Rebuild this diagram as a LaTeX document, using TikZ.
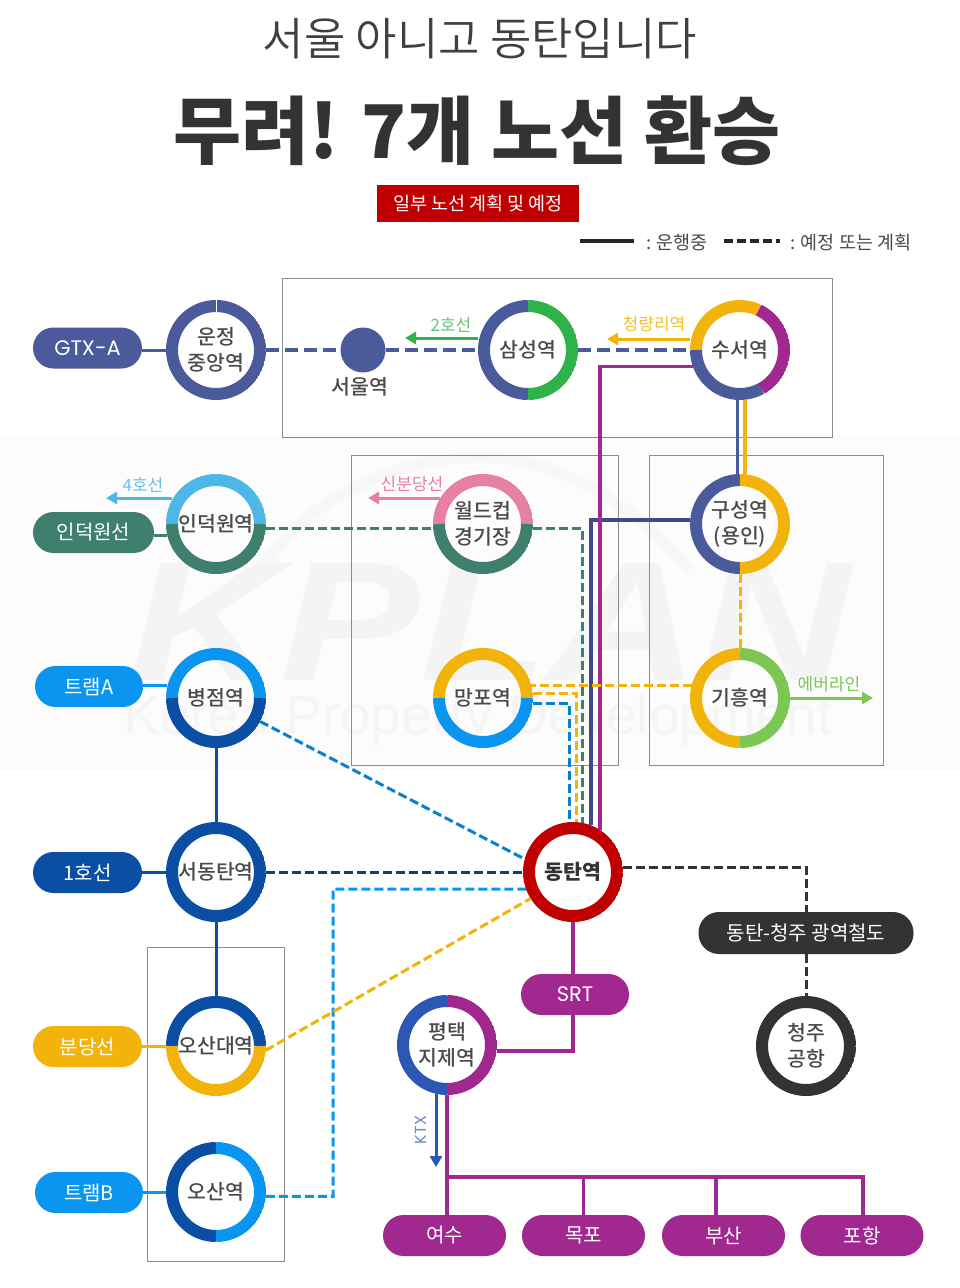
\documentclass[tikz,border=0pt]{standalone}
\usepackage{fontspec}
\setmainfont{Noto Sans CJK KR}
\newfontfamily\krb{Noto Sans CJK KR Black}
\newfontfamily\krl{Noto Sans CJK KR DemiLight}
\newfontfamily\krm{Noto Sans CJK KR Medium}
\newfontfamily\lat{Poppins}
\newfontfamily\wm{Liberation Sans}
\usetikzlibrary{arrows.meta}
\definecolor{cgtx}{HTML}{4A5A9B}
\definecolor{cgreen}{HTML}{3F7F6E}
\definecolor{cbright}{HTML}{0A96F0}
\definecolor{cdark}{HTML}{0B4FA5}
\definecolor{cnavy}{HTML}{0A3F80}
\definecolor{cyel}{HTML}{F2B40A}
\definecolor{cpur}{HTML}{A0288F}
\definecolor{cred}{HTML}{C00000}
\definecolor{clime}{HTML}{7CC653}
\definecolor{csky}{HTML}{4DB8E8}
\definecolor{cpink}{HTML}{E87FA5}
\definecolor{cgr2}{HTML}{2DB34A}
\definecolor{cktx}{HTML}{2D57B5}
\definecolor{cblk}{HTML}{333333}
\definecolor{ctxt}{HTML}{4A4A4A}
\newcommand\sta[5][]{\node[stn,#1,path picture={
  \foreach \cc/\aa/\bb in {#5}{
    \draw[\cc,line width=12pt] (path picture bounding box.center) ++(\aa:44pt) arc[start angle=\aa,end angle=\bb,radius=44pt];
  }}] (#2) at (#3) {#4};}
\tikzset{
  stn/.style={circle,minimum size=100pt,inner sep=0pt,outer sep=0pt,align=center,text=ctxt,font=\krm\fontsize{20.5}{26}\selectfont},
  pillbox/.style={rounded corners=20.5pt,minimum height=41pt,inner sep=0pt,outer sep=0pt,text=white,font=\fontsize{20}{24}\selectfont},
  frame/.style={draw=black!45,line width=1pt},
  solid3/.style={line width=3pt},
  dash4/.style={line width=4pt,dash pattern=on 13pt off 6pt},
  dash2/.style={line width=3pt,dash pattern=on 9pt off 4pt},
  arr/.style={line width=3pt,-{Triangle[length=11pt,width=12pt]}},
  lab/.style={font=\fontsize{17}{20}\selectfont},
}
\begin{document}
\begin{tikzpicture}[x=1pt,y=-1pt]
\useasboundingbox (0,0) rectangle (960,1288);
\fill[white] (0,0) rectangle (960,1288);
% watermark
\fill[black!1.2] (0,435) rectangle (960,770);
\draw[black!3,line width=11pt] (262,570) .. controls (310,490) and (420,450) .. (500,458) .. controls (570,465) and (640,510) .. (690,570);
\node[text=black!4.5,xscale=1.23,transform shape,font=\wm\bfseries\itshape\fontsize{170}{170}\selectfont] (wmk) at (490,622) {KPLAN};
\node[text=black!4,font=\wm\fontsize{55}{55}\selectfont] (wmk2) at (478,720) {Korea Property Development};
% headings
\node[text=black!75,font=\krl\fontsize{45}{50}\selectfont] (t1) at (480,39) {서울 아니고 동탄입니다};
\node[text=black!80,font=\krb\fontsize{74}{80}\selectfont] (t2) at (477,130.5) {무려! 7개 노선 환승};
\node[fill=cred,text=white,minimum width=202pt,minimum height=37pt,inner sep=0pt,font=\fontsize{18.5}{22}\selectfont] (note) at (478,203.5) {일부 노선 계획 및 예정};
% legend
\coordinate (l1a) at (580,241); \coordinate (l1b) at (634,241);
\coordinate (l2a) at (724,241); \coordinate (l2b) at (780,241);
\draw[line width=3.5pt,black!85] (l1a) -- (l1b);
\draw[line width=3.5pt,black!85,dash pattern=on 9pt off 4pt] (l2a) -- (l2b);
\node[text=ctxt,font=\fontsize{18.5}{20}\selectfont,anchor=west,inner sep=0pt] (lg1) at (646,242.5) {: 운행중};
\node[text=ctxt,font=\fontsize{18.5}{20}\selectfont,anchor=west,inner sep=0pt] (lg2) at (790,242.5) {: 예정 또는 계획};
% frames
\draw[frame] (282,278) rectangle (832,437);
\draw[frame] (351,455) rectangle (618,765);
\draw[frame] (649,455) rectangle (883,765);
\draw[frame] (147,947) rectangle (284,1261);
% stations
\sta{unj}{216,350}{운정\\중앙역}{cgtx/0/360}
\sta{sam}{528,350}{삼성역}{cgtx/90/270,cgr2/-90/90}
\sta{sus}{740,350}{수서역}{cyel/65/180,cgtx/180/299,cpur/299/425}
\sta{ind}{216,524}{인덕원역}{csky/0/180,cgreen/180/360}
\sta{wor}{483,524}{월드컵\\경기장}{cpink/0/180,cgreen/180/360}
\sta{gus}{740,524}{구성역\\(용인)}{cgtx/90/270,cyel/-90/90}
\sta{byu}{216,698}{병점역}{cbright/0/180,cdark/180/360}
\sta{man}{483,698}{망포역}{cyel/0/180,cbright/180/360}
\sta{gih}{740,698}{기흥역}{cyel/90/270,clime/-90/90}
\sta{sdt}{216,872}{서동탄역}{cdark/0/360}
\sta[font=\krb\fontsize{20.5}{26}\selectfont,text=black!80]{dt}{573,872}{동탄역}{cred/0/360}
\sta{osd}{216,1046}{오산대역}{cdark/0/180,cyel/180/360}
\sta{osa}{216,1192}{오산역}{cdark/90/270,cbright/-90/90}
\sta{pyt}{447,1045}{평택\\지제역}{cktx/90/270,cpur/-90/90}
\sta{cjg}{806,1046}{청주\\공항}{cblk/0/360}
\draw[white,line width=1pt] (216,300) -- (216,312);
\node[circle,fill=cgtx,minimum size=45pt,inner sep=0pt,outer sep=0pt] (seo) at (363,350) {};
\node[text=ctxt,font=\krm\fontsize{20.5}{26}\selectfont] (seol) at (360,387) {서울역};
% pills
\node[pillbox,fill=cgtx,minimum width=109pt,font=\lat\fontsize{21}{24}\selectfont] (pgtx) at (87.5,348) {GTX-A};
\node[pillbox,fill=cgreen,minimum width=121pt] (pind) at (93.5,532.5) {인덕원선};
\node[pillbox,fill=cbright,minimum width=108pt] (ptra) at (89,686.5) {트램A};
\node[pillbox,fill=cdark,minimum width=109pt] (p1) at (87.5,872.5) {1호선};
\node[pillbox,fill=cyel,minimum width=109pt] (pbun) at (87.5,1046.5) {분당선};
\node[pillbox,fill=cbright,minimum width=108pt] (ptrb) at (89,1192.5) {트램B};
\node[pillbox,fill=cpur,minimum width=108pt,font=\lat\fontsize{21}{24}\selectfont] (psrt) at (575,994.5) {SRT};
\node[pillbox,fill=cblk,minimum width=215pt,minimum height=42pt] (pcj) at (806,933) {동탄-청주 광역철도};
\node[pillbox,fill=cpur,minimum width=123pt] (pyeo) at (444.5,1235.5) {여수};
\node[pillbox,fill=cpur,minimum width=123pt] (pmok) at (583.5,1235.5) {목포};
\node[pillbox,fill=cpur,minimum width=123pt] (pbus) at (723.5,1235.5) {부산};
\node[pillbox,fill=cpur,minimum width=123pt] (ppoh) at (862,1235.5) {포항};
% pill links
\draw[cgtx,solid3] (pgtx.east|-unj) -- (unj.west);
\draw[cgreen,solid3] (pind.east|-ind.193) -- (ind.193);
\draw[cbright,solid3] (ptra.east|-byu.166) -- (byu.166);
\draw[cdark,solid3] (p1.east|-sdt) -- (sdt.west);
\draw[cyel,solid3] (pbun.east|-osd) -- (osd.west);
\draw[cbright,solid3] (ptrb.east|-osa) -- (osa.west);
\draw[cdark,solid3] (byu) -- (sdt);
\draw[cdark,solid3] (sdt) -- (osd);
% GTX dashed
\draw[cgtx,dash4] (unj) -- (seo);
\draw[cgtx,dash4] (seo) -- (sam);
\draw[cgtx,dash4] (sam) -- (sus);
% line arrows
\coordinate (a2a) at (478,338); \coordinate (a2b) at (405,338);
\draw[cgr2,arr] (a2a) -- (a2b);
\node[lab,text=cgr2!75] (l2h) at (451,324.5) {2호선};
\coordinate (a3a) at (690,339); \coordinate (a3b) at (607,339);
\draw[cyel,arr] (a3a) -- (a3b);
\node[lab,text=cyel!85] (lcr) at (654,324.5) {청량리역};
\coordinate (a4a) at (172,498); \coordinate (a4b) at (106,498);
\draw[csky,arr] (a4a) -- (a4b);
\node[lab,text=csky!85] (l4h) at (143,484.5) {4호선};
\coordinate (a5a) at (440,498); \coordinate (a5b) at (368,498);
\draw[cpink,arr] (a5a) -- (a5b);
\node[lab,text=cpink] (lsb) at (412,484.5) {신분당선};
\coordinate (a6a) at (790,698); \coordinate (a6b) at (873,698);
\draw[clime,arr] (a6a) -- (a6b);
\node[lab,text=clime] (lev) at (829,684.5) {에버라인};
\coordinate (a7a) at (436,1094); \coordinate (a7b) at (436,1167);
\draw[cktx,arr] (a7a) -- (a7b);
\node[lab,text=cktx!70,rotate=90,font=\lat\fontsize{16}{18}\selectfont] (lktx) at (421,1130) {KTX};
% into Dongtan
\coordinate (g2) at (582,823);
\draw[cgreen,dash2] (ind.-5) -- (wor.185);
\draw[cgreen,dash2] (wor.-5) -| (g2);
\coordinate (b2) at (590.5,825);
\draw[cgtx!85!black,line width=4pt] (gus.175) -| (b2);
\coordinate (p2a) at (600,830);
\draw[cpur,line width=3.5pt] (sus.199) -| (p2a);
\coordinate (y2) at (576,822);
\draw[cyel,dash2] (man.5) -| (y2);
\coordinate (c2) at (569,822);
\draw[cbright!85!black,dash2] (man.-6) -| (c2);
\draw[cyel,dash2] (gih.165) -- (man.15);
\draw[cyel,dash2] (gus) -- (gih);
\draw[cgtx,line width=2.8pt] (sus.-93) -- (gus.93);
\draw[cyel,line width=4pt] (sus.-84) -- (gus.84);
\draw[cbright!85!black,dash2] (byu.-28) -- (dt.165);
\draw[cnavy,dash2] (sdt) -- (dt);
\coordinate (o2) at (333,889);
\draw[cbright,dash2] (osa.-5) -| (o2) -- (dt.200);
\draw[cyel,dash2] (osd.-5) -- (dt.212);
\draw[cblk,dash2] (dt.5) -| (pcj.north);
\draw[cblk,dash2] (pcj.south) -- (cjg);
% SRT
\draw[cpur,line width=3.5pt] (dt) -- (dt|-psrt.north);
\draw[cpur,line width=3.5pt] (dt|-psrt.south) |- (pyt.-7);
% Southbound
\coordinate (h1) at (447,1177); \coordinate (h2) at (863,1177);
\draw[cpur,line width=3.5pt] (pyt) -- (pyt|-pyeo.north);
\draw[cpur,line width=3.5pt] (h1) -- (h2) -- (h2|-ppoh.north);
\draw[cpur,line width=3.5pt] (pmok.north) -- (pmok.north|-h1);
\coordinate (h3) at (716,1177);
\draw[cpur,line width=3.5pt] (h3) -- (h3|-pbus.north);
\end{tikzpicture}
\end{document}
